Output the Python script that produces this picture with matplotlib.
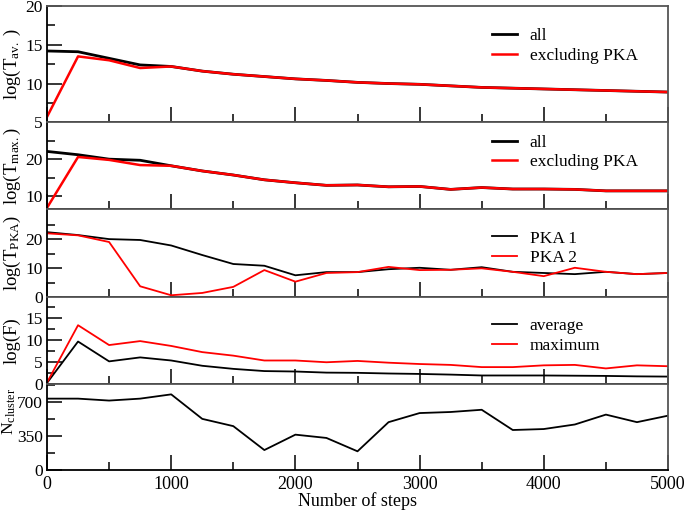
import matplotlib
matplotlib.use("Agg")
import matplotlib.pyplot as plt
from matplotlib.ticker import MultipleLocator, FixedLocator

plt.rcParams['font.family'] = ['Liberation Serif', 'DejaVu Serif']
plt.rcParams['mathtext.fontset'] = 'custom'
plt.rcParams['mathtext.rm'] = 'Liberation Serif'
plt.rcParams['mathtext.it'] = 'Liberation Serif:italic'

# x: number of steps
steps = [0, 250, 500, 750, 1000, 1250, 1500, 1750, 2000, 2250, 2500,
         2750, 3000, 3250, 3500, 3750, 4000, 4250, 4500, 4750, 5000]

# panel 1 : log(T_av.)
tav_all = [14.2, 14.1, 13.25, 12.4, 12.2, 11.6, 11.2, 10.9, 10.6, 10.4, 10.15,
           10.0, 9.9, 9.7, 9.5, 9.4, 9.3, 9.2, 9.1, 9.0, 8.9]
tav_excl = [5.7, 13.5, 13.0, 12.0, 12.2, 11.6, 11.2, 10.9, 10.6, 10.4, 10.15,
            10.0, 9.9, 9.7, 9.5, 9.4, 9.3, 9.2, 9.1, 9.0, 8.9]

# panel 2 : log(T_max.)
tmax_all = [22.1, 21.2, 20.0, 19.7, 18.2, 16.8, 15.7, 14.4, 13.6, 12.9, 13.0,
            12.5, 12.6, 11.8, 12.3, 11.9, 11.9, 11.8, 11.4, 11.4, 11.4]
tmax_excl = [6.8, 20.6, 19.8, 18.4, 18.2, 16.8, 15.7, 14.4, 13.6, 12.9, 13.0,
             12.5, 12.6, 11.8, 12.3, 11.9, 11.9, 11.8, 11.4, 11.4, 11.4]

# panel 3 : log(T_PKA)
pka1 = [22.4, 21.4, 20.0, 19.7, 17.8, 14.5, 11.4, 10.8, 7.5, 8.6, 8.6,
        9.6, 10.1, 9.4, 10.3, 8.7, 8.3, 7.9, 8.7, 7.9, 8.3]
pka2 = [22.0, 21.3, 19.0, 3.7, 0.6, 1.4, 3.5, 9.3, 5.3, 8.3, 8.6,
        10.4, 9.3, 9.4, 9.9, 8.7, 7.2, 10.1, 8.7, 7.9, 8.3]

# panel 4 : log(F)
f_avg = [0.3, 9.7, 5.2, 6.1, 5.4, 4.2, 3.5, 3.0, 2.9, 2.65, 2.6,
         2.45, 2.35, 2.2, 2.0, 2.0, 2.0, 1.95, 1.9, 1.8, 1.75]
f_max = [0.4, 13.4, 8.9, 9.8, 8.7, 7.3, 6.5, 5.4, 5.4, 5.0, 5.3,
         4.9, 4.6, 4.4, 3.9, 3.9, 4.3, 4.4, 3.6, 4.3, 4.1]

# panel 5 : N_cluster
n_cluster = [737, 737, 717, 737, 781, 528, 453, 206, 365, 331, 193,
             494, 588, 599, 622, 413, 423, 470, 572, 494, 561]

fig = plt.figure(figsize=(6.85, 5.12), dpi=100)

left, width = 47 / 685, (668 - 47) / 685
edges = [6, 122.3, 209.3, 297, 384.3, 470]  # pixel rows of panel borders
axes = []
for i in range(5):
    top, bot = edges[i], edges[i + 1]
    ax = fig.add_axes([left, 1 - bot / 512, width, (bot - top) / 512])
    axes.append(ax)

RED = '#ff0000'

def style(ax):
    ax.set_xlim(0, 5000)
    ax.xaxis.set_major_locator(MultipleLocator(1000))
    ax.xaxis.set_minor_locator(MultipleLocator(500))
    ax.tick_params(which='major', direction='in', length=11, width=1.1,
                   labelsize=13, pad=4, right=False, top=False)
    ax.tick_params(axis='y', which='major', labelsize=12.5, pad=3)
    ax.tick_params(which='minor', direction='in', length=5.5, width=1.1,
                   right=False, top=False)
    for s in ax.spines.values():
        s.set_linewidth(1.3)
    ax.spines['right'].set_color('#555555')
    ax.spines['top'].set_color('#555555')

def leg(ax, y):
    ax.legend(loc='upper left', bbox_to_anchor=(0.716, y), frameon=False,
              fontsize=12.5, handlelength=1.45, handletextpad=0.75,
              labelspacing=0.2, borderpad=0, borderaxespad=0)

# y labels drawn as figure text: (text, centre column, centre row, size)
ylabels = [(r'log(T$_{\rm av.}$ )', 12, 64, 13.5),
           (r'log(T$_{\rm max.}$)', 12, 166, 13.5),
           (r'log(T$_{\rm PKA}$)', 12, 253, 13.5),
           ('log(F)', 12, 341, 13.5),
           (r'N$_{\rm cluster}$', 9.5, 412, 12.5)]

# panel 1
ax = axes[0]
ax.plot(steps, tav_all, color='black', lw=2.0, label='all')
ax.plot(steps, tav_excl, color=RED, lw=1.8, label='excluding PKA')
ax.set_ylim(5, 20)
ax.yaxis.set_major_locator(MultipleLocator(5))
ax.yaxis.set_minor_locator(MultipleLocator(2.5))
leg(ax, 0.81)

# panel 2
ax = axes[1]
ax.plot(steps, tmax_all, color='black', lw=2.0, label='all')
ax.plot(steps, tmax_excl, color=RED, lw=1.8, label='excluding PKA')
ax.set_ylim(6.4, 30)
ax.yaxis.set_major_locator(FixedLocator([10, 20]))
ax.yaxis.set_minor_locator(FixedLocator([15, 25]))
leg(ax, 0.86)

# panel 3
ax = axes[2]
ax.plot(steps, pka1, color='black', lw=1.3, label='PKA 1')
ax.plot(steps, pka2, color=RED, lw=1.3, label='PKA 2')
ax.set_ylim(0, 30.3)
ax.yaxis.set_major_locator(FixedLocator([0, 10, 20]))
ax.yaxis.set_minor_locator(FixedLocator([5, 15, 25]))
leg(ax, 0.76)

# panel 4
ax = axes[3]
ax.plot(steps, f_avg, color='black', lw=1.3, label='average')
ax.plot(steps, f_max, color=RED, lw=1.3, label='maximum')
ax.set_ylim(0, 19.8)
ax.yaxis.set_major_locator(FixedLocator([0, 5, 10, 15]))
ax.yaxis.set_minor_locator(FixedLocator([2.5, 7.5, 12.5, 17.5]))
leg(ax, 0.76)

# panel 5
ax = axes[4]
ax.plot(steps, n_cluster, color='black', lw=1.3)
ax.set_ylim(0, 885)
ax.yaxis.set_major_locator(FixedLocator([0, 350, 700]))
ax.yaxis.set_minor_locator(FixedLocator([175, 525, 875]))
ax.set_xlabel('Number of steps', fontsize=13, labelpad=0)

for i, ax in enumerate(axes):
    style(ax)
    if i < 4:
        ax.tick_params(labelbottom=False)

for text, col, row, size in ylabels:
    fig.text(col / 685, 1 - row / 512, text, rotation=90, ha='center',
             va='center', fontsize=size)

fig.savefig('out.png', dpi=100)
